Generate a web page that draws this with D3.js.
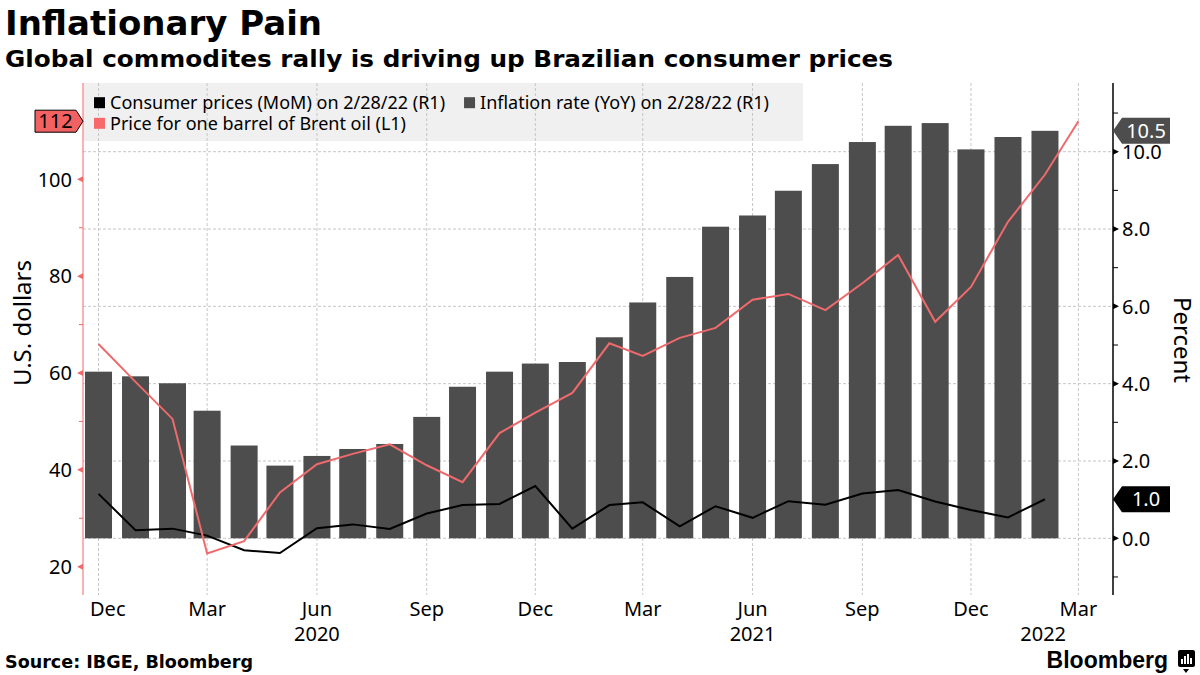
<!DOCTYPE html>
<html><head><meta charset="utf-8">
<script src="https://cdn.jsdelivr.net/npm/d3@7"></script>
<style>body{margin:0;background:#fff;} svg{display:block}</style>
</head><body><svg id="c" width="1200" height="675"></svg>
<script>
// ---------------- DATA ----------------
const months = ["2019-12-01","2020-01-01","2020-02-01","2020-03-01","2020-04-01","2020-05-01","2020-06-01",
  "2020-07-01","2020-08-01","2020-09-01","2020-10-01","2020-11-01","2020-12-01","2021-01-01","2021-02-01",
  "2021-03-01","2021-04-01","2021-05-01","2021-06-01","2021-07-01","2021-08-01","2021-09-01","2021-10-01",
  "2021-11-01","2021-12-01","2022-01-01","2022-02-01"];
const inflationYoY = [4.31,4.19,4.01,3.30,2.40,1.88,2.13,2.31,2.44,3.14,3.92,4.31,4.52,4.56,5.20,6.10,6.76,8.06,8.35,8.99,9.68,10.25,10.67,10.74,10.06,10.38,10.54];
const cpiMoM = [1.15,0.21,0.25,0.07,-0.31,-0.38,0.26,0.36,0.24,0.64,0.86,0.89,1.35,0.25,0.86,0.93,0.31,0.83,0.53,0.96,0.87,1.16,1.25,0.95,0.73,0.54,1.01];
const brentMonths = months.concat(["2022-03-01"]);
const brentOil = [66.00,58.16,50.52,22.74,25.27,35.33,41.15,43.30,45.28,40.95,37.46,47.59,51.80,55.88,66.13,63.54,67.25,69.32,75.13,76.33,72.99,78.52,84.38,70.57,77.78,91.21,100.99,112.0];
const xTicks = ["2019-12-01","2020-03-01","2020-06-01","2020-09-01","2020-12-01","2021-03-01","2021-06-01","2021-09-01","2021-12-01","2022-03-01"];
const years = ["2020","2021","2022"];
const leftTicks = [20,40,60,80,100];
const leftMinor = [30,50,70,90];
const rightTicks = [0,2,4,6,8,10];
const rightMinor = [-1,1,3,5,7,9,11];
const legendItems = [
  {label:"Consumer prices (MoM) on 2/28/22 (R1)", color:"#000000"},
  {label:"Inflation rate (YoY) on 2/28/22 (R1)", color:"#4d4d4d"},
  {label:"Price for one barrel of Brent oil (L1)", color:"#f8696b"}
];
const title = "Inflationary Pain";
const subtitle = "Global commodites rally is driving up Brazilian consumer prices";
const source = "Source: IBGE, Bloomberg";

// ---------------- SETUP ----------------
const parse = d3.timeParse("%Y-%m-%d");
const svg = d3.select("#c");
const L = 83, R = 1113, T = 83, B = 595;
const RED = "#ef6a6c", BAR = "#4d4d4d", GRID = "#c6c6c6";
const FONT = "'Noto Sans', sans-serif";
const HEAD = "'DejaVu Sans', sans-serif";

const x = d3.scaleTime().domain([new Date(2019,10,18), new Date(2022,2,30)]).range([L, R]);
const yL = d3.scaleLinear().domain([20,100]).range([566.7,179.3]);
const yR = d3.scaleLinear().domain([0,10]).range([538.3,151.7]);

// Titles
svg.append("text").attr("x",5).attr("y",35).attr("font-family",HEAD).attr("font-weight","bold")
  .attr("font-size",33).attr("textLength",317).attr("lengthAdjust","spacingAndGlyphs")
  .attr("fill","#000").text(title);
svg.append("text").attr("x",5).attr("y",67).attr("font-family",HEAD).attr("font-weight","bold")
  .attr("font-size",23).attr("textLength",888).attr("lengthAdjust","spacingAndGlyphs")
  .attr("fill","#000").text(subtitle);

// Legend box
svg.append("rect").attr("x",L).attr("y",83).attr("width",720).attr("height",58).attr("fill","#f0f0f0");

// Gridlines
const grid = svg.append("g");
grid.selectAll(".hg").data(rightTicks).join("line")
  .attr("x1",L).attr("x2",R).attr("y1",d=>yR(d)).attr("y2",d=>yR(d))
  .attr("stroke",GRID).attr("stroke-dasharray","3,2");
grid.selectAll(".vg").data(xTicks).join("line")
  .attr("x1",d=>x(parse(d))).attr("x2",d=>x(parse(d))).attr("y1",T).attr("y2",B)
  .attr("stroke",GRID).attr("stroke-dasharray","3,2");

// Bars
const bw = 27;
svg.append("g").selectAll("rect").data(months).join("rect")
  .attr("x",(d)=>x(parse(d))-bw/2).attr("width",bw)
  .attr("y",(d,i)=>yR(inflationYoY[i])).attr("height",(d,i)=>yR(0)-yR(inflationYoY[i]))
  .attr("fill",BAR);

// Lines
const lineR = d3.line().x(d=>x(parse(d[0]))).y(d=>yR(d[1]));
const lineL = d3.line().x(d=>x(parse(d[0]))).y(d=>yL(d[1]));
svg.append("path").datum(months.map((m,i)=>[m,cpiMoM[i]])).attr("d",lineR)
  .attr("fill","none").attr("stroke","#000").attr("stroke-width",2);
svg.append("path").datum(brentMonths.map((m,i)=>[m,brentOil[i]])).attr("d",lineL)
  .attr("fill","none").attr("stroke",RED).attr("stroke-width",2);

// Left axis
svg.append("line").attr("x1",L).attr("x2",L).attr("y1",T).attr("y2",B).attr("stroke","#f48a8a").attr("stroke-width",1.3);
svg.append("g").selectAll("path").data(leftTicks).join("path")
  .attr("d",d=>`M${L},${yL(d)-3}L${L-6},${yL(d)}L${L},${yL(d)+3}Z`).attr("fill","#f06a6c");
svg.append("g").selectAll("line").data(leftMinor).join("line")
  .attr("x1",L-4).attr("x2",L).attr("y1",d=>yL(d)).attr("y2",d=>yL(d)).attr("stroke","#f06a6c");
svg.append("g").selectAll("text").data(leftTicks).join("text")
  .attr("x",L-11).attr("y",d=>yL(d)).attr("dy","0.36em").attr("text-anchor","end")
  .attr("font-family",FONT).attr("font-size",20).attr("fill","#000").text(d=>d);

// Right axis
svg.append("line").attr("x1",R).attr("x2",R).attr("y1",T).attr("y2",B).attr("stroke","#000").attr("stroke-width",1.5);
svg.append("g").selectAll("path").data(rightTicks).join("path")
  .attr("d",d=>`M${R},${yR(d)-3}L${R+6},${yR(d)}L${R},${yR(d)+3}Z`).attr("fill","#000");
svg.append("g").selectAll("line").data(rightMinor).join("line")
  .attr("x1",R).attr("x2",R+5).attr("y1",d=>yR(d)).attr("y2",d=>yR(d)).attr("stroke","#000");
svg.append("g").selectAll("text").data(rightTicks).join("text")
  .attr("x",R+9).attr("y",d=>yR(d)).attr("dy","0.36em")
  .attr("font-family",FONT).attr("font-size",20).attr("fill","#000").text(d=>d3.format(".1f")(d));

// X axis labels
const fmtM = d3.timeFormat("%b");
const xl = svg.append("g").selectAll("text").data(xTicks).join("text")
  .attr("x",d=>x(parse(d))).attr("y",616).attr("text-anchor","middle")
  .attr("font-family",FONT).attr("font-size",20).attr("fill","#000").text(d=>fmtM(parse(d)));
xl.each(function(d){
  const w = this.getComputedTextLength(), cx = x(parse(d));
  if (cx - w/2 < L + 7) d3.select(this).attr("x", L + 7 + w/2);
});
const lastTick = parse(xTicks[xTicks.length-1]);
svg.append("g").selectAll("text").data(years).join("text")
  .attr("x",d=>{
    const jun = new Date(+d,5,1);
    if (jun <= x.domain()[1]) return x(jun);
    return (x(new Date(+d,0,1)) + x(lastTick))/2;
  })
  .attr("y",641).attr("text-anchor","middle")
  .attr("font-family",FONT).attr("font-size",20).attr("fill","#000").text(d=>d);

// Axis titles
svg.append("text").attr("transform",`translate(31,${323}) rotate(-90)`).attr("text-anchor","middle")
  .attr("font-family",FONT).attr("font-size",24).attr("fill","#000").text("U.S. dollars");
svg.append("text").attr("transform",`translate(1174,${340}) rotate(90)`).attr("text-anchor","middle")
  .attr("font-family",FONT).attr("font-size",24).attr("fill","#000").text("Percent");

// Legend
const lg = svg.append("g").attr("font-family",FONT).attr("font-size",18);
function legendItem(item, lx, ly){
  lg.append("rect").attr("x",lx).attr("y",ly-5.5).attr("width",11).attr("height",11).attr("fill",item.color);
  const t = lg.append("text").attr("x",lx+16).attr("y",ly).attr("dy","0.36em").attr("fill","#000").text(item.label);
  return lx + 16 + t.node().getComputedTextLength();
}
const end1 = legendItem(legendItems[0], 94, 102.7);
legendItem(legendItems[1], end1 + 19, 102.7);
legendItem(legendItems[2], 94, 123.3);

// Badges
function leftBadge(v){
  const cy = yL(v), h = 22, tip = L, bx1 = L-7, w = 41;
  svg.append("path").attr("d",`M${bx1-w},${cy-h/2}H${bx1}L${tip},${cy}L${bx1},${cy+h/2}H${bx1-w}Z`)
    .attr("fill","#f26262").attr("stroke","#000").attr("stroke-width",1);
  svg.append("text").attr("x",bx1-w/2).attr("y",cy).attr("dy","0.36em").attr("text-anchor","middle")
    .attr("font-family",FONT).attr("font-size",20).attr("fill","#000").text(d3.format(".0f")(v));
}
function rightBadge(v, fill){
  const cy = yR(v), h = 26, bx = R+9, w = 48;
  svg.append("path").attr("d",`M${R},${cy}L${bx},${cy-h/2}H${bx+w}V${cy+h/2}H${bx}Z`).attr("fill",fill);
  svg.append("text").attr("x",bx+w/2).attr("y",cy).attr("dy","0.36em").attr("text-anchor","middle")
    .attr("font-family",FONT).attr("font-size",20).attr("fill","#fff").text(d3.format(".1f")(v));
}
leftBadge(brentOil[brentOil.length-1]);
rightBadge(inflationYoY[inflationYoY.length-1], BAR);
rightBadge(cpiMoM[cpiMoM.length-1], "#000");

// Footer
svg.append("text").attr("x",5).attr("y",668).attr("font-family",HEAD).attr("font-weight","bold")
  .attr("font-size",18).attr("textLength",248).attr("lengthAdjust","spacingAndGlyphs")
  .attr("fill","#000").text(source);
svg.append("text").attr("x",1168).attr("y",668).attr("text-anchor","end").attr("font-family","'Liberation Sans', sans-serif")
  .attr("font-weight","bold").attr("font-size",23).attr("fill","#000").text("Bloomberg");
const ic = svg.append("g");
ic.append("rect").attr("x",1178).attr("y",650).attr("width",17).attr("height",17).attr("rx",2).attr("fill","#000");
ic.append("path").attr("d","M1183,669L1186,673L1189,669Z").attr("fill","#000");
[[1181,659,2,5],[1184,656,2,8],[1187,654,2,10],[1190,658,2,6]].forEach(b=>{
  ic.append("rect").attr("x",b[0]).attr("y",b[1]).attr("width",b[2]).attr("height",b[3]).attr("fill","#fff");
});
</script>
</body></html>
